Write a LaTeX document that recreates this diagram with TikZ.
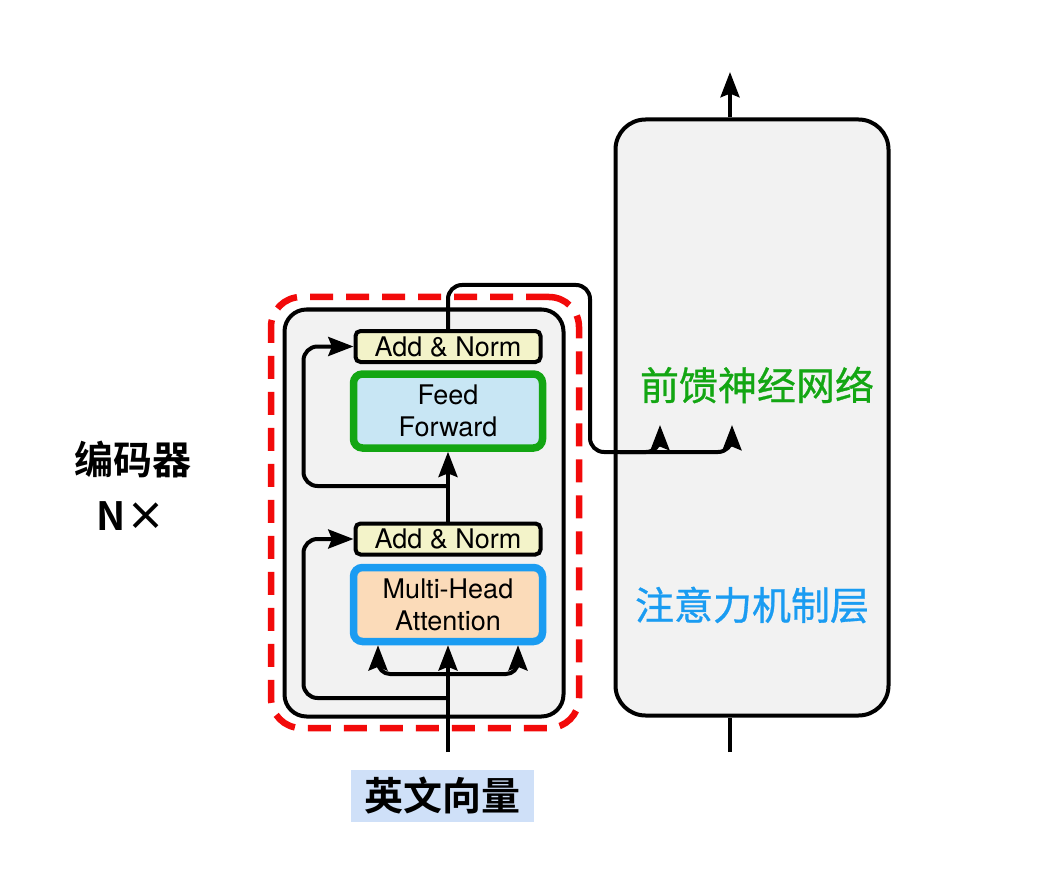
\documentclass[tikz,border=0pt]{standalone}
\usepackage{fontspec}
\setmainfont{TeX Gyre Heros}
\newfontfamily\cjk[BoldFont={Noto Sans CJK SC Bold}]{Noto Sans CJK SC}
\newfontfamily\cjkmed[FakeBold=0.8]{Noto Sans CJK SC}
\usetikzlibrary{arrows.meta}

\definecolor{layerfill}{HTML}{F2F2F2}
\definecolor{normfill}{HTML}{F3F3C9}
\definecolor{fffill}{HTML}{C8E6F4}
\definecolor{attnfill}{HTML}{FBDBB9}
\definecolor{ffgreen}{HTML}{13A613}
\definecolor{attnblue}{HTML}{1A9CF2}
\definecolor{inputfill}{HTML}{CFE0F8}
\definecolor{encred}{HTML}{F20A0A}

\newcommand\blockfont{\fontsize{27}{32}\selectfont}
\newcommand\cjkfont{\cjk\fontsize{39}{44}\selectfont}
\newcommand\cjkmedfont{\cjkmed\fontsize{39}{44}\selectfont}

\tikzset{
  wire/.style={line width=4pt,line join=round},
  flow/.style={wire,-{Stealth[scale=1.2,inset=3pt]}},
  addnorm/.style={draw=black,fill=normfill,line width=4pt,rounded corners=5pt,
    minimum width=185pt,minimum height=31pt,inner sep=0pt,font=\blockfont},
  sublayer/.style={line width=7.5pt,rounded corners=9pt,minimum width=189pt,
    minimum height=74pt,inner sep=0pt,align=center,font=\blockfont},
  stackbox/.style={draw=black,fill=layerfill,line width=4pt,inner sep=0pt},
}

\begin{document}
\begin{tikzpicture}[x=1pt,y=-1pt]
\useasboundingbox (0,0) rectangle (1051,890);
% encoder layer and the decoder-side box
\node[stackbox,rounded corners=22pt,minimum width=279pt,minimum height=407pt] (encoder) at (424,513) {};
\node[stackbox,rounded corners=30pt,minimum width=273pt,minimum height=596pt] (stack) at (752,417.5) {};
% sub-layers
\node[addnorm] (norm-ff) at (448,346.5) {Add \& Norm};
\node[sublayer,draw=ffgreen,fill=fffill] (ff) at (448,411) {Feed\\Forward};
\node[addnorm] (norm-attn) at (448,539) {Add \& Norm};
\node[sublayer,draw=attnblue,fill=attnfill] (attn) at (448,604.5) {Multi-Head\\Attention};
% free ends
\coordinate (in) at (448,752);
\coordinate (fork-attn) at (448,674);
\coordinate (res-attn) at (448,698);
\coordinate (res-ff) at (448,486);
\coordinate (ff-in-left) at (660,425);
\coordinate (ff-in-right) at (732,425);
\coordinate (out) at (730,72);
\coordinate (dec-in) at (730,752);
% connectors
\draw[flow] (in) -- (attn);
\draw[flow,rounded corners=12pt] (fork-attn) -| ([xshift=-70pt]attn.south);
\draw[flow,rounded corners=12pt] (fork-attn) -| ([xshift=70pt]attn.south);
\draw[flow,rounded corners=14pt] (res-attn) -| ([xshift=-50pt]norm-attn.west) -- (norm-attn.west);
\draw[flow] (norm-attn) -- (ff);
\draw[flow,rounded corners=14pt] (res-ff) -| ([xshift=-50pt]norm-ff.west) -- (norm-ff.west);
\draw[flow,rounded corners=14pt] (norm-ff.north) -- (448,285) -- (590,285) -- (590,452) -| (ff-in-right);
\draw[flow,rounded corners=14pt] (620,452) -| (ff-in-left);
\draw[flow] (stack.north -| out) -- (out);
\draw[wire] (dec-in) -- (stack.south -| dec-in);
% dashed frame round the encoder
\node[draw=encred,line width=6.5pt,dash pattern=on 23pt off 13pt,rounded corners=30pt,
  minimum width=308pt,minimum height=431pt,inner sep=0pt] (frame) at (425,512.5) {};
% labels
\node[font=\cjkfont\bfseries] (enc-label) at (133,460) {编码器};
\node[font=\cjkfont\bfseries] (n-label) at (131,516) {N×};
\node[font=\cjkmedfont,text=ffgreen] (ff-label) at (757,385) {前馈神经网络};
\node[font=\cjkmedfont,text=attnblue] (attn-label) at (752,605) {注意力机制层};
\node[fill=inputfill,minimum width=183pt,minimum height=52pt,inner sep=0pt,
  font=\cjkfont\bfseries] (input) at (442.5,796) {英文向量};
\end{tikzpicture}
\end{document}
